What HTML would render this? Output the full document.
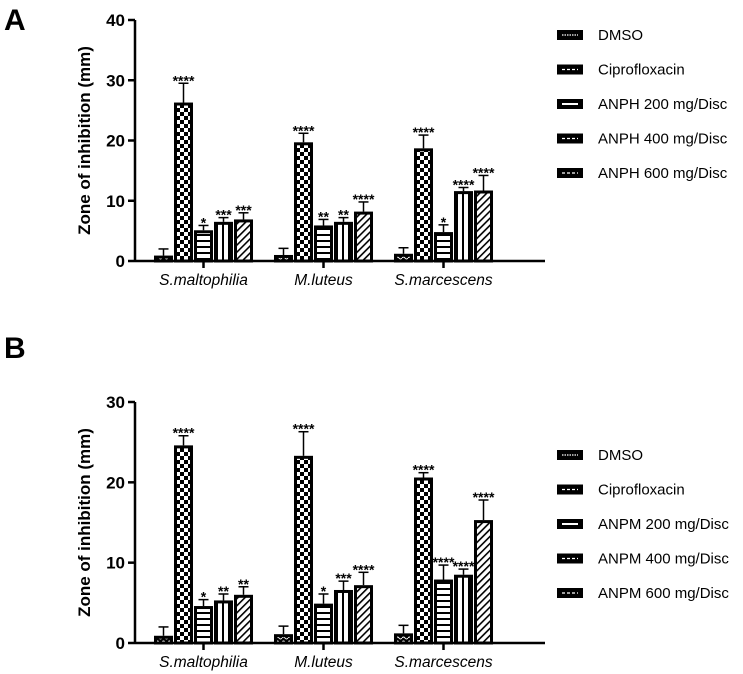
<!DOCTYPE html>
<html><head><meta charset="utf-8"><style>
body{margin:0;background:#fff;font-family:"Liberation Sans",Arial,sans-serif}
svg{display:block}
</style></head><body>
<svg id="chart" width="743" height="674" xmlns="http://www.w3.org/2000/svg">
<defs>
<pattern id="p0" width="6" height="4" patternUnits="userSpaceOnUse"><rect width="6" height="4" fill="#000"/><path d="M0 2 Q1.5 0 3 2 T6 2" stroke="#fff" stroke-width="1" fill="none"/></pattern>
<pattern id="p1" width="8" height="8" patternUnits="userSpaceOnUse"><rect width="8" height="8" fill="#000"/><rect width="4" height="4" fill="#fff"/><rect x="4" y="4" width="4" height="4" fill="#fff"/></pattern>
<pattern id="p2" width="6" height="6" patternUnits="userSpaceOnUse"><rect width="6" height="6" fill="#fff"/><rect y="0" width="6" height="2" fill="#000"/></pattern>
<pattern id="p3" width="6" height="6" patternUnits="userSpaceOnUse"><rect width="6" height="6" fill="#fff"/><rect x="0" width="2" height="6" fill="#000"/></pattern>
<pattern id="p4" width="5" height="5" patternUnits="userSpaceOnUse" patternTransform="rotate(45)"><rect width="5" height="5" fill="#fff"/><rect width="1.6" height="5" fill="#000"/></pattern>
</defs>
</svg>
<script>
const categories=["S.maltophilia","M.luteus","S.marcescens"];
const seriesA=["DMSO","Ciprofloxacin","ANPH 200 mg/Disc","ANPH 400 mg/Disc","ANPH 600 mg/Disc"];
const seriesB=["DMSO","Ciprofloxacin","ANPM 200 mg/Disc","ANPM 400 mg/Disc","ANPM 600 mg/Disc"];
const valuesA=[[0.9,26.3,5.1,6.5,6.9],[1.0,19.7,5.9,6.5,8.2],[1.2,18.7,4.8,11.6,11.7]];
const errorsA=[[1.1,3.2,0.8,0.7,1.1],[1.1,1.5,1.0,0.7,1.6],[1.0,2.2,1.2,0.6,2.5]];
const starsA=[["","****","*","***","***"],["","****","**","**","****"],["","****","*","****","****"]];
const valuesB=[[0.9,24.6,4.6,5.3,6.0],[1.1,23.3,4.9,6.6,7.2],[1.2,20.6,7.9,8.5,15.3]];
const errorsB=[[1.1,1.2,0.8,0.8,1.0],[1.0,3.0,1.2,1.1,1.6],[1.0,0.6,1.8,0.7,2.5]];
const starsB=[["","****","*","**","**"],["","****","*","***","****"],["","****","****","****","****"]];
const ticksA=[0,10,20,30,40];
const ticksB=[0,10,20,30];

const svg=document.getElementById('chart');
const NS="http://www.w3.org/2000/svg";
function mk(tag,attrs,parent){const e=document.createElementNS(NS,tag);for(const k in attrs)e.setAttribute(k,attrs[k]);(parent||svg).appendChild(e);return e;}

function panel(cfg){
  const g=mk('g',{});
  
  
  const y=v=>cfg.y0-(v/cfg.max)*(cfg.y0-cfg.yTop);
  const x0=135,x1=545;
  const bx=(ci,si)=>154+ci*120+si*20;
  cfg.values.forEach((row,ci)=>row.forEach((v,si)=>{
    const x=bx(ci,si), yy=y(v);
    const ey=y(v+cfg.errors[ci][si]);
    const cx=x+9.5;
    const e=mk('line',{x1:cx,x2:cx,y1:yy,y2:ey,stroke:'#000','stroke-width':1.5},g);
    
    
    const cap=mk('line',{x1:cx-5,x2:cx+5,y1:ey,y2:ey,stroke:'#000','stroke-width':1.5},g);
    
    
    const r=mk('rect',{x:x+1.5,y:yy+1.5,width:16,height:Math.max(0,cfg.y0-yy-1.5),fill:'url(#p'+si+')',stroke:'#000','stroke-width':3},g);
    
    
    const s=cfg.stars[ci][si];
    if(s){const t=mk('text',{x:cx,y:ey+2,'text-anchor':'middle','font-size':14,'font-weight':'bold'},g);t.textContent=s;
      
      }
  }));
  const ya=mk('line',{x1:x0,x2:x0,y1:cfg.yTop,y2:cfg.y0+1,stroke:'#000','stroke-width':2.5},g);
  
  
  const xa=mk('line',{x1:x0,x2:x1,y1:cfg.y0,y2:cfg.y0,stroke:'#000','stroke-width':2.5},g);
  
  
  cfg.ticks.forEach(tv=>{
    const ty=y(tv);
    mk('line',{x1:x0-7,x2:x0,y1:ty,y2:ty,stroke:'#000','stroke-width':2.5},g);
    const t=mk('text',{x:x0-10,y:ty+6,'text-anchor':'end','font-size':17,'font-weight':'bold'},g);t.textContent=tv;
    
    
  });
  categories.forEach((c,ci)=>{
    const cx=bx(ci,2)+9.5;
    mk('line',{x1:cx,x2:cx,y1:cfg.y0,y2:cfg.y0+7,stroke:'#000','stroke-width':2.5},g);
    const t=mk('text',{x:cx,y:cfg.y0+24,'text-anchor':'middle','font-size':15.5,'font-style':'italic'},g);t.textContent=c;
    
    
  });
  const yt=mk('text',{x:0,y:0,'text-anchor':'middle','font-size':17,'font-weight':'bold',transform:`translate(90,${(cfg.y0+cfg.yTop)/2}) rotate(-90)`},g);
  yt.textContent='Zone of inhibition (mm)';
  
  
  const pl=mk('text',{x:4,y:cfg.letterY,'font-size':30,'font-weight':'bold'},g);pl.textContent=cfg.letter;
  
  
  cfg.series.forEach((s,si)=>{
    const ly=cfg.legY+si*34.5;
    const r=mk('rect',{x:557,y:ly-5,width:26,height:10,fill:'#000'},g);
    
    
    const d=mk('line',{x1:562,x2:578,y1:ly,y2:ly,stroke:'#fff','stroke-width':si===2?2:1.3,'stroke-dasharray':si===2?'none':(si===0?'1.5 1':'3 2')},g);
    
    
    const t=mk('text',{x:598,y:ly+5,'font-size':15},g);t.textContent=s;
    
    
  });
}
panel({name:'panel-a',letter:'A',letterY:30,y0:261,yTop:20,max:40,ticks:ticksA,values:valuesA,errors:errorsA,stars:starsA,series:seriesA,cats:['smalt','mlut','smarc'],legY:35});
panel({name:'panel-b',letter:'B',letterY:358,y0:643,yTop:402,max:30,ticks:ticksB,values:valuesB,errors:errorsB,stars:starsB,series:seriesB,cats:['smalt','mlut','smarc'],legY:455});
</script>
</body></html>
